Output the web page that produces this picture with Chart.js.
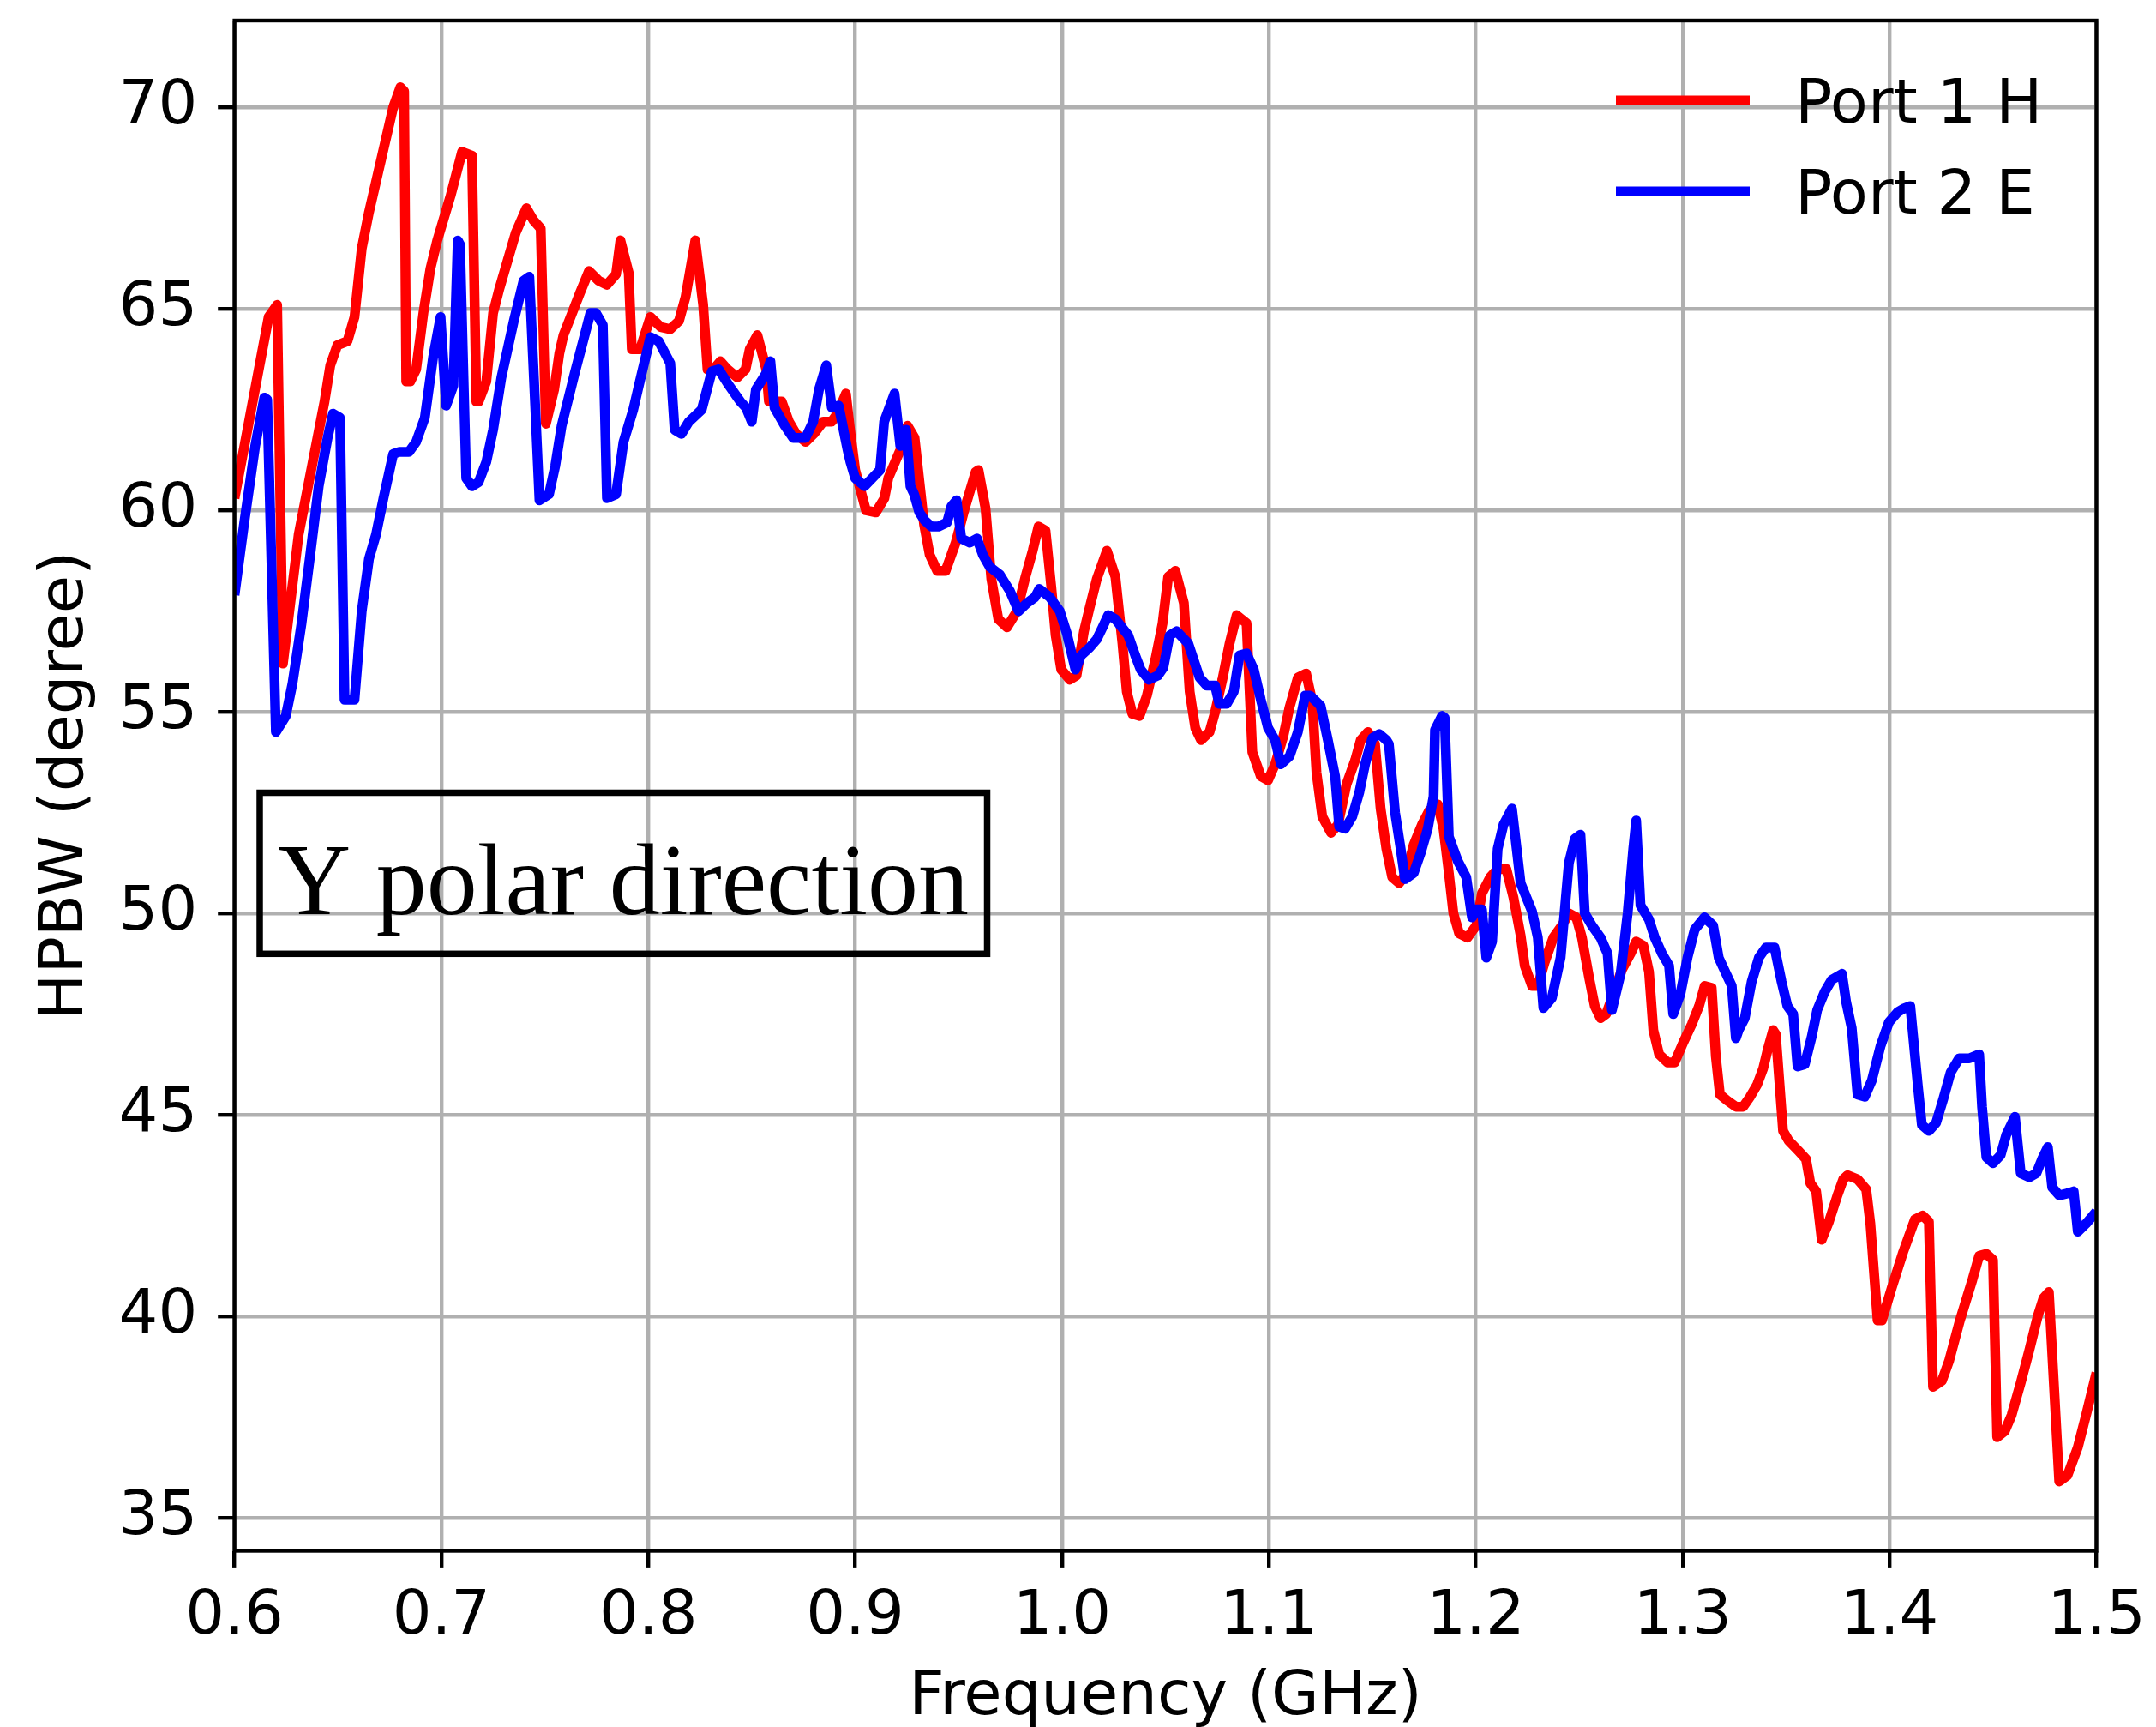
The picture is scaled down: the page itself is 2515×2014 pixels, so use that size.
<!DOCTYPE html>
<html>
<head>
<meta charset="utf-8">
<title>HPBW vs frequency</title>
<script src="https://cdn.jsdelivr.net/npm/chart.js"></script>
<style>
  html, body { margin: 0; padding: 0; background: #fff; }
  #wrap { width: 2515px; height: 2014px; }
</style>
</head>
<body>
<div id="wrap"><canvas id="myChart"></canvas></div>
<script>
// Port 1 H (red)
const freqH = [0.600, 0.6165, 0.6206, 0.6234, 0.631, 0.6435, 0.6463, 0.6497, 0.6546, 0.658,
  0.6615, 0.665, 0.6767, 0.6802, 0.682, 0.683, 0.685, 0.6878, 0.6913, 0.6947,
  0.698, 0.7044, 0.710, 0.7148, 0.7169, 0.718, 0.7217, 0.725, 0.728, 0.736,
  0.7411, 0.7445, 0.748, 0.7505, 0.7545, 0.757, 0.759, 0.767, 0.7713, 0.776,
  0.780, 0.7844, 0.7865, 0.7905, 0.792, 0.796, 0.801, 0.806, 0.8106, 0.8148,
  0.818, 0.8217, 0.8227, 0.8265, 0.8286, 0.8307, 0.8348, 0.8383, 0.843, 0.847,
  0.849, 0.8527, 0.857, 0.8583, 0.861, 0.8645, 0.868, 0.8714, 0.876, 0.880,
  0.8845, 0.8886, 0.8914, 0.8955, 0.8975, 0.900, 0.9052, 0.910, 0.9141, 0.916,
  0.9218, 0.9253, 0.9287, 0.9315, 0.9333, 0.936, 0.9396, 0.9437, 0.9486, 0.9527,
  0.9582, 0.9596, 0.963, 0.9658, 0.9692, 0.9734, 0.9782, 0.9823, 0.9858, 0.9886,
  0.992, 0.9948, 0.9969, 0.9996, 1.0037, 1.007, 1.0106, 1.0134, 1.0168, 1.0217,
  1.0258, 1.0292, 1.0313, 1.034, 1.0375, 1.041, 1.0451, 1.0486, 1.0513, 1.0548,
  1.0589, 1.0617, 1.0644, 1.0672, 1.0713, 1.074, 1.0775, 1.081, 1.0844, 1.0892,
  1.092, 1.0961, 1.0996, 1.103, 1.107, 1.1099, 1.114, 1.118, 1.121, 1.123,
  1.1258, 1.130, 1.1334, 1.1375, 1.1417, 1.1444, 1.1479, 1.1513, 1.154, 1.1568,
  1.1596, 1.163, 1.1665, 1.170, 1.174, 1.1775, 1.1817, 1.1844, 1.187, 1.1892,
  1.192, 1.196, 1.2003, 1.203, 1.207, 1.2106, 1.2148, 1.2182, 1.2217, 1.2237,
  1.2272, 1.230, 1.2334, 1.2375, 1.2417, 1.245, 1.2486, 1.2513, 1.2548, 1.2575,
  1.2603, 1.263, 1.2665, 1.2706, 1.2748, 1.2775, 1.281, 1.2837, 1.2858, 1.2886,
  1.2927, 1.2961, 1.3003, 1.3044, 1.3079, 1.3106, 1.314, 1.316, 1.318, 1.3216,
  1.3257, 1.3292, 1.3326, 1.336, 1.3389, 1.341, 1.3437, 1.345, 1.3485, 1.3513,
  1.356, 1.3596, 1.3617, 1.3645, 1.3672, 1.3707, 1.3748, 1.3776, 1.3797, 1.3845,
  1.3887, 1.3907, 1.3942, 1.3963, 1.401, 1.4066, 1.4122, 1.416, 1.419, 1.421,
  1.4253, 1.4288, 1.434, 1.440, 1.4433, 1.4468, 1.450, 1.452, 1.4557, 1.459,
  1.4634, 1.4675, 1.4716, 1.4744, 1.477, 1.482, 1.486, 1.491, 1.495, 1.500];
const hpbwH = [60.3, 64.8, 65.1, 56.2, 59.4, 62.7, 63.6, 64.1, 64.2, 64.8,
  66.5, 67.4, 70.0, 70.5, 70.4, 63.2, 63.2, 63.5, 64.9, 66.0,
  66.7, 67.8, 68.9, 68.8, 62.7, 62.7, 63.2, 64.9, 65.5, 66.9,
  67.5, 67.2, 67.0, 62.15, 63.0, 63.9, 64.35, 65.4, 65.94, 65.7,
  65.6, 65.86, 66.7, 65.9, 64.0, 64.0, 64.8, 64.55, 64.5, 64.7,
  65.3, 66.4, 66.7, 65.1, 63.5, 63.45, 63.7, 63.5, 63.3, 63.5,
  64.0, 64.35, 63.5, 62.7, 62.7, 62.7, 62.2, 61.9, 61.7, 61.9,
  62.2, 62.2, 62.4, 62.9, 62.0, 61.0, 60.0, 59.95, 60.3, 60.8,
  61.5, 62.1, 61.8, 60.5, 59.65, 58.9, 58.5, 58.5, 59.2, 60.0,
  60.95, 61.0, 60.05, 58.3, 57.3, 57.1, 57.5, 58.35, 59.0, 59.6,
  59.5, 58.1, 56.9, 56.05, 55.8, 55.9, 57.0, 57.6, 58.3, 59.0,
  58.35, 56.7, 55.5, 54.95, 54.9, 55.4, 56.3, 57.2, 58.35, 58.5,
  57.7, 55.5, 54.6, 54.3, 54.5, 55.0, 55.8, 56.7, 57.4, 57.2,
  54.0, 53.4, 53.3, 53.7, 54.4, 55.1, 55.85, 55.95, 55.25, 53.5,
  52.4, 52.0, 52.2, 53.2, 53.8, 54.3, 54.5, 54.2, 52.6, 51.6,
  50.9, 50.75, 51.0, 51.7, 52.2, 52.55, 52.7, 52.1, 51.0, 50.0,
  49.5, 49.4, 49.7, 50.5, 50.9, 51.1, 51.1, 50.4, 49.45, 48.7,
  48.2, 48.2, 48.8, 49.4, 49.7, 50.0, 49.9, 49.4, 48.4, 47.7,
  47.4, 47.5, 48.0, 48.6, 49.0, 49.3, 49.2, 48.55, 47.1, 46.5,
  46.3, 46.3, 46.8, 47.25, 47.7, 48.2, 48.15, 46.45, 45.5, 45.35,
  45.2, 45.2, 45.45, 45.75, 46.15, 46.6, 47.1, 47.0, 44.6, 44.35,
  44.1, 43.9, 43.3, 43.1, 41.9, 42.35, 43.0, 43.4, 43.5, 43.4,
  43.15, 42.3, 39.9, 39.9, 40.7, 41.6, 42.4, 42.5, 42.35, 38.25,
  38.4, 38.9, 39.9, 40.9, 41.5, 41.55, 41.4, 37.0, 37.15, 37.55,
  38.35, 39.15, 40.0, 40.45, 40.6, 35.9, 36.05, 36.75, 37.55, 38.6];

// Port 2 E (blue)
const freqE = [0.600, 0.6047, 0.610, 0.6144, 0.6158, 0.620, 0.6248, 0.628, 0.6324, 0.6366,
  0.6407, 0.645, 0.6476, 0.651, 0.6532, 0.658, 0.6615, 0.665, 0.6684, 0.672,
  0.6767, 0.6795, 0.6843, 0.6878, 0.692, 0.696, 0.6996, 0.7023, 0.7058, 0.7079,
  0.709, 0.712, 0.7148, 0.718, 0.7217, 0.725, 0.729, 0.735, 0.7397, 0.7425,
  0.7474, 0.752, 0.755, 0.7581, 0.7644, 0.770, 0.772, 0.7747, 0.778, 0.780,
  0.7844, 0.788, 0.7927, 0.7968, 0.801, 0.805, 0.8106, 0.8127, 0.816, 0.8196,
  0.8258, 0.8307, 0.834, 0.839, 0.8445, 0.8472, 0.850, 0.852, 0.857, 0.859,
  0.861, 0.866, 0.870, 0.876, 0.8797, 0.8825, 0.886, 0.8887, 0.892, 0.8963,
  0.8977, 0.900, 0.9045, 0.912, 0.914, 0.919, 0.9218, 0.9246, 0.9267, 0.9285,
  0.931, 0.9336, 0.9368, 0.9403, 0.9444, 0.9465, 0.949, 0.9513, 0.9554, 0.9589,
  0.9617, 0.965, 0.970, 0.9748, 0.979, 0.983, 0.987, 0.989, 0.994, 0.9989,
  1.0023, 1.0065, 1.0092, 1.0134, 1.0168, 1.0196, 1.0223, 1.0258, 1.032, 1.0354,
  1.038, 1.042, 1.0463, 1.049, 1.052, 1.0554, 1.061, 1.0665, 1.070, 1.074,
  1.076, 1.0796, 1.083, 1.0858, 1.0892, 1.0927, 1.0961, 1.0996, 1.103, 1.1058,
  1.110, 1.114, 1.1175, 1.120, 1.125, 1.1285, 1.132, 1.134, 1.1368, 1.1403,
  1.1437, 1.1465, 1.150, 1.1534, 1.1568, 1.158, 1.161, 1.1637, 1.1658, 1.170,
  1.1734, 1.1768, 1.1796, 1.1803, 1.1837, 1.185, 1.187, 1.1913, 1.1954, 1.1982,
  1.2003, 1.203, 1.2051, 1.2079, 1.2106, 1.2134, 1.2175, 1.2217, 1.2272, 1.230,
  1.2327, 1.2368, 1.241, 1.245, 1.2479, 1.2506, 1.2527, 1.2561, 1.2603, 1.2637,
  1.2658, 1.270, 1.2734, 1.2761, 1.2775, 1.2796, 1.2837, 1.2865, 1.290, 1.2934,
  1.2954, 1.2989, 1.3023, 1.3058, 1.3105, 1.3147, 1.3174, 1.321, 1.3237, 1.3257,
  1.327, 1.330, 1.3333, 1.3368, 1.3402, 1.3444, 1.3478, 1.3506, 1.3534, 1.3555,
  1.359, 1.3624, 1.365, 1.3686, 1.372, 1.377, 1.379, 1.3817, 1.3845, 1.388,
  1.3914, 1.3956, 1.3997, 1.4039, 1.4073, 1.410, 1.4136, 1.4156, 1.419, 1.4225,
  1.426, 1.4295, 1.4336, 1.4385, 1.4433, 1.4447, 1.4468, 1.450, 1.4537, 1.4564,
  1.4606, 1.4634, 1.4675, 1.471, 1.4737, 1.4765, 1.4786, 1.482, 1.4862, 1.489,
  1.491, 1.495, 1.500];
const hpbwE = [57.9, 59.7, 61.6, 62.8, 62.75, 54.5, 54.9, 55.7, 57.2, 58.9,
  60.6, 61.8, 62.4, 62.3, 55.3, 55.3, 57.5, 58.8, 59.4, 60.3,
  61.4, 61.45, 61.45, 61.7, 62.3, 63.8, 64.8, 62.6, 63.1, 66.7,
  66.6, 60.8, 60.6, 60.7, 61.2, 62.0, 63.3, 64.7, 65.7, 65.8,
  60.25, 60.4, 61.1, 62.1, 63.4, 64.5, 64.9, 64.9, 64.6, 60.3,
  60.4, 61.7, 62.5, 63.4, 64.3, 64.2, 63.65, 62.0, 61.9, 62.2,
  62.5, 63.45, 63.5, 63.1, 62.7, 62.55, 62.2, 63.0, 63.4, 63.7,
  62.55, 62.1, 61.8, 61.8, 62.2, 63.0, 63.6, 62.55, 62.6, 61.5,
  61.2, 60.8, 60.6, 61.0, 62.2, 62.9, 61.6, 62.0, 60.6, 60.4,
  59.95, 59.75, 59.6, 59.6, 59.7, 60.1, 60.25, 59.3, 59.2, 59.3,
  58.9, 58.6, 58.4, 58.0, 57.5, 57.7, 57.85, 58.05, 57.85, 57.5,
  56.95, 56.05, 56.4, 56.6, 56.8, 57.1, 57.4, 57.3, 56.9, 56.4,
  56.05, 55.8, 55.9, 56.1, 56.9, 57.0, 56.7, 55.85, 55.65, 55.65,
  55.2, 55.2, 55.5, 56.4, 56.45, 56.05, 55.3, 54.6, 54.3, 53.7,
  53.9, 54.5, 55.4, 55.4, 55.15, 54.3, 53.4, 52.15, 52.1, 52.4,
  53.0, 53.7, 54.35, 54.45, 54.3, 54.2, 52.5, 51.6, 50.85, 51.0,
  51.5, 52.1, 52.9, 54.55, 54.9, 54.85, 51.9, 51.3, 50.9, 49.9,
  50.1, 50.1, 48.9, 49.3, 51.6, 52.2, 52.6, 50.75, 50.05, 49.4,
  47.65, 47.9, 48.9, 51.25, 51.85, 51.95, 50.0, 49.7, 49.4, 49.0,
  47.6, 48.5, 50.0, 51.6, 52.3, 50.2, 49.85, 49.4, 49.0, 48.7,
  47.5, 48.0, 48.9, 49.6, 49.9, 49.7, 48.9, 48.5, 48.2, 46.9,
  47.1, 47.4, 48.3, 48.9, 49.15, 49.15, 48.3, 47.7, 47.5, 46.2,
  46.25, 46.95, 47.6, 48.05, 48.35, 48.5, 47.8, 47.15, 45.5, 45.45,
  45.85, 46.7, 47.3, 47.55, 47.65, 47.7, 45.75, 44.75, 44.6, 44.8,
  45.4, 46.05, 46.4, 46.4, 46.5, 45.2, 43.95, 43.8, 44.0, 44.5,
  44.95, 43.55, 43.45, 43.55, 43.9, 44.2, 43.2, 43.0, 43.05, 43.1,
  42.1, 42.3, 42.6];

const seriesLabels = ["Port 1 H", "Port 2 E"];
const seriesColors = ["#ff0000", "#0000ff"];
const xTicks = [0.6, 0.7, 0.8, 0.9, 1.0, 1.1, 1.2, 1.3, 1.4, 1.5];
const xTickLabels = ["0.6", "0.7", "0.8", "0.9", "1.0", "1.1", "1.2", "1.3", "1.4", "1.5"];
const yTicks = [35, 40, 45, 50, 55, 60, 65, 70];
const yTickLabels = ["35", "40", "45", "50", "55", "60", "65", "70"];
const noteText = "Y polar direction";

function toPoints(xs, ys) {
  return xs.map((x, i) => ({ x: x, y: ys[i] }));
}

const sansFont = "'DejaVu Sans', sans-serif";

// frame, legend and the text box, drawn over the lines like matplotlib does
const overlayPlugin = {
  id: "overlay",
  afterDatasetsDraw(chart) {
    const ctx = chart.ctx;
    const area = chart.chartArea;
    ctx.save();

    ctx.strokeStyle = "#000";
    ctx.lineWidth = 4.4;
    ctx.strokeRect(area.left, area.top, area.right - area.left, area.bottom - area.top);

    // legend
    ctx.font = "72px " + sansFont;
    ctx.textBaseline = "alphabetic";
    ctx.textAlign = "left";
    const rowY = [117.3, 223.3];
    chart.data.datasets.forEach((ds, i) => {
      ctx.strokeStyle = ds.borderColor;
      ctx.lineWidth = 11.5;
      ctx.lineCap = "butt";
      ctx.beginPath();
      ctx.moveTo(1885, rowY[i]);
      ctx.lineTo(2041, rowY[i]);
      ctx.stroke();
      ctx.fillStyle = "#000";
      ctx.fillText(ds.label, 2094, rowY[i] + 26);
    });

    // text box
    ctx.strokeStyle = "#000";
    ctx.lineWidth = 7.5;
    ctx.strokeRect(303, 924.5, 848.5, 187.8);
    ctx.fillStyle = "#000";
    ctx.font = "118px 'Liberation Serif', serif";
    ctx.textAlign = "center";
    ctx.fillText(noteText, 727, 1066);

    ctx.restore();
  }
};

window.onload = () => {
  new Chart("myChart", {
    type: "line",
    data: {
      datasets: [{
        label: seriesLabels[0],
        data: toPoints(freqH, hpbwH),
        borderColor: seriesColors[0],
        borderWidth: 11.5,
        order: 1
      }, {
        label: seriesLabels[1],
        data: toPoints(freqE, hpbwE),
        borderColor: seriesColors[1],
        borderWidth: 11.5,
        order: 0
      }]
    },
    options: {
      responsive: true,
      maintainAspectRatio: false,
      animation: false,
      devicePixelRatio: 1,
      layout: { padding: { left: 0, top: 24, right: 69.5, bottom: 0 } },
      elements: {
        point: { radius: 0, hoverRadius: 0 },
        line: { tension: 0, borderJoinStyle: "round", fill: false }
      },
      datasets: { line: { clip: 0 } },
      plugins: {
        legend: { display: false },
        tooltip: { enabled: false }
      },
      events: [],
      scales: {
        x: {
          type: "linear",
          min: 0.6,
          max: 1.5,
          afterBuildTicks(scale) { scale.ticks = xTicks.map(v => ({ value: v })); },
          afterFit(scale) {
            scale.height = 2014 - 1808.5;
            scale.paddingLeft = 0;
            scale.paddingRight = 0;
            scale.paddingTop = 0;
            scale.paddingBottom = 0;
          },
          ticks: {
            callback: (v, i) => xTickLabels[i],
            font: { family: sansFont, size: 72, lineHeight: 1 },
            color: "#000",
            padding: 22,
            maxRotation: 0,
            autoSkip: false
          },
          grid: { color: "#b0b0b0", lineWidth: 4.4, tickColor: "#000", tickWidth: 4.4, tickLength: 19.4 },
          border: { display: false },
          title: {
            display: true,
            text: "Frequency (GHz)",
            color: "#000",
            font: { family: sansFont, size: 72, lineHeight: 0.95 },
            padding: { top: 0, bottom: 0 }
          }
        },
        y: {
          type: "linear",
          min: 34.18,
          max: 72.156,
          afterBuildTicks(scale) { scale.ticks = yTicks.map(v => ({ value: v })); },
          afterFit(scale) {
            scale.width = 273.6;
            scale.paddingLeft = 0;
            scale.paddingRight = 0;
            scale.paddingTop = 0;
            scale.paddingBottom = 0;
          },
          ticks: {
            callback: (v, i) => yTickLabels[i],
            font: { family: sansFont, size: 72, lineHeight: 1 },
            color: "#000",
            padding: 24,
            autoSkip: false
          },
          grid: { color: "#b0b0b0", lineWidth: 4.4, tickColor: "#000", tickWidth: 4.4, tickLength: 19.4 },
          border: { display: false },
          title: {
            display: true,
            text: "HPBW (degree)",
            color: "#000",
            font: { family: sansFont, size: 72, lineHeight: 1.2 },
            padding: { top: 34, bottom: 0 }
          }
        }
      }
    },
    plugins: [overlayPlugin]
  });
};
</script>
</body>
</html>
